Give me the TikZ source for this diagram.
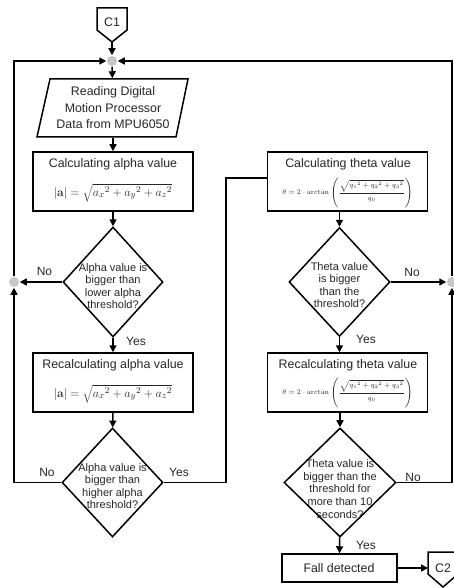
\documentclass[tikz,border=0pt]{standalone}
\usepackage[no-math]{fontspec}
\setmainfont{Liberation Sans}
\usetikzlibrary{arrows.meta,shapes.geometric}
\begin{document}
\begin{tikzpicture}[x=1pt,y=-1pt,line width=1.5pt,
  every node/.style={inner sep=0pt,text=black!85},
  box/.style={draw,rectangle,minimum width=160pt,minimum height=59pt},
  dia/.style={draw,diamond,inner sep=0pt},
  dtext/.style={align=center,font=\fontsize{11}{12.6}\selectfont},
  ttl/.style={font=\fontsize{12.4}{14}\selectfont},
  lbl/.style={font=\fontsize{12}{14}\selectfont},
  fa/.style={font=\fontsize{12.5}{14}\selectfont},
  ft/.style={font=\fontsize{7}{8}\selectfont},
  dot/.style={circle,fill=black!22,minimum size=10pt},
  arr/.style={-{Triangle[length=7pt,width=7pt]}}]
\useasboundingbox (0,0) rectangle (454,588);

% C1 connector
\draw (97,8) -- (127,8) -- (127,30) -- (112,42) -- (97,30) -- cycle;
\node[ttl] (c1) at (112,22) {C1};
\coordinate (c1tip) at (112,42);

% junction dots
\node[dot] (dtop) at (112,61) {};
\node[dot] (dleft) at (14,282) {};
\node[dot] (dright) at (452,282) {};

% parallelogram
\draw (50,79) -- (188,79) -- (176,137) -- (37,137) -- cycle;
\node[ttl,align=center,minimum width=126pt,minimum height=58pt,
      font=\fontsize{12.4}{16.5}\selectfont] (par) at (113,108)
  {Reading Digital\\Motion Processor\\Data from MPU6050};

% left column
\node[box] (b1) at (113,181.5) {};
\node[ttl] (b1t) at (113,164.5) {Calculating alpha value};
\node[fa] (b1f) at (113,192.5) {$|\mathbf{a}| = \sqrt{a_x{}^2 + a_y{}^2 + a_z{}^2}$};

\node[dia,minimum width=100pt,minimum height=110pt] (d1) at (113,282) {};
\node[dtext] (d1t) at (113,286) {Alpha value is\\bigger than\\lower alpha\\threshold?};

\node[box] (b2) at (113,382.5) {};
\node[ttl] (b2t) at (113,365.5) {Recalculating alpha value};
\node[fa] (b2f) at (113,393.5) {$|\mathbf{a}| = \sqrt{a_x{}^2 + a_y{}^2 + a_z{}^2}$};

\node[dia,minimum width=101pt,minimum height=109pt] (d2) at (112.5,482.5) {};
\node[dtext] (d2t) at (112.5,486) {Alpha value is\\bigger than\\higher alpha\\threshold?};

% right column
\node[box] (bt) at (347.5,181.5) {};
\node[ttl] (btt) at (348,164.5) {Calculating theta value};
\node[ft] (btf) at (347.5,193) {$\displaystyle \theta = 2\cdot\arctan\left(\frac{\sqrt{q_1{}^2+q_2{}^2+q_3{}^2}}{q_0}\right)$};

\node[dia,minimum width=101pt,minimum height=109pt] (d3) at (339.5,282) {};
\node[dtext] (d3t) at (339.5,285) {Theta value\\is bigger\\than the\\threshold?};

\node[box] (b4) at (347.5,382.5) {};
\node[ttl] (b4t) at (348,365.5) {Recalculating theta value};
\node[ft] (b4f) at (347.5,393) {$\displaystyle \theta = 2\cdot\arctan\left(\frac{\sqrt{q_1{}^2+q_2{}^2+q_3{}^2}}{q_0}\right)$};

\node[dia,minimum width=112pt,minimum height=109pt] (d4) at (340,482.5) {};
\node[dtext] (d4t) at (340,489) {Theta value is\\bigger than the\\threshold for\\more than 10\\seconds?};

\node[draw,rectangle,minimum width=115pt,minimum height=28pt] (fall) at (339.5,568) {};
\node[ttl] (fallt) at (339,568) {Fall detected};

% C2 connector
\draw (428,552) -- (458,552) -- (458,574) -- (443,587) -- (428,574) -- cycle;
\node[ttl] (c2) at (443,568) {C2};
\coordinate (c2in) at (428,568);

% connectors
\draw[arr] (c1tip) -- (dtop);
\draw[arr] (dtop) -- (par);
\draw[arr] (par) -- (b1);
\draw[arr] (b1) -- (d1);
\draw[arr] (d1) -- (dleft);
\draw[arr] (d1) -- (b2);
\draw[arr] (b2) -- (d2);
\draw[arr] (d2.west) -| (dleft);
\draw[arr] (dleft) |- (dtop);
\coordinate (turn) at (226,178);
\draw (d2.east) -| (turn) -- (bt.west |- turn);
\draw[arr] (bt.south -| d3) -- (d3);
\draw[arr] (d3) -- (dright);
\draw[arr] (d3.south) -- (d3 |- b4.north);
\draw[arr] (b4.south -| d4) -- (d4);
\draw[arr] (d4.east) -| (dright);
\draw[arr] (dright) |- (dtop);
\draw[arr] (d4) -- (fall);
\draw[arr] (fall) -- (c2in);

% labels
\node[lbl] (l1) at (44.5,271) {No};
\node[lbl] (l2) at (136,341) {Yes};
\node[lbl] (l3) at (47,472) {No};
\node[lbl] (l4) at (179,472) {Yes};
\node[lbl] (l5) at (412,272) {No};
\node[lbl] (l6) at (366,339) {Yes};
\node[lbl] (l7) at (413,477) {No};
\node[lbl] (l8) at (366,545) {Yes};
\end{tikzpicture}
\end{document}
